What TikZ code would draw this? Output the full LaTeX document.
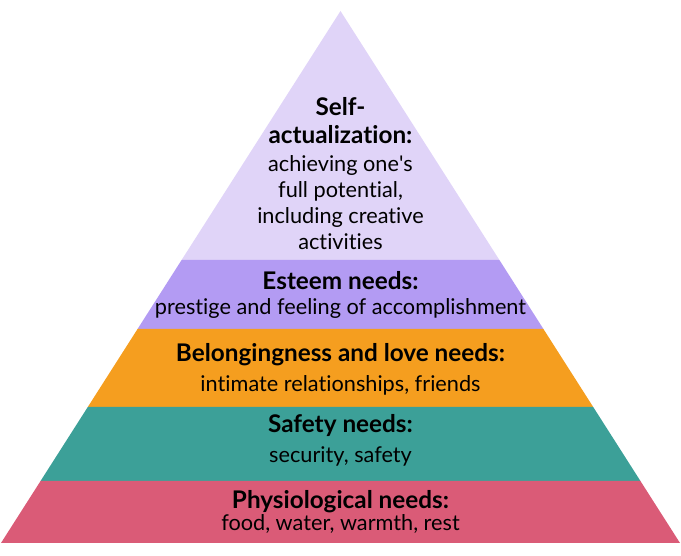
\documentclass[tikz,border=0pt]{standalone}
\usepackage{fontspec}
\setmainfont{Lato}[Ligatures=NoCommon]
\newfontfamily\straightlato{Lato}
\usepackage{tikz}
\usetikzlibrary{calc}
\usepackage{tkz-euclide}

\definecolor{toplav}{HTML}{E0D4F8}
\definecolor{esteemlav}{HTML}{B39BF3}
\definecolor{loveorange}{HTML}{F59E1F}
\definecolor{safeteal}{HTML}{3CA098}
\definecolor{physpink}{HTML}{DA5B77}

\tikzset{
  head/.style={font=\fontsize{24.3}{28}\selectfont\bfseries, anchor=base, align=center, inner sep=0pt},
  desc/.style={font=\fontsize{21.7}{26}\selectfont, anchor=base, align=center, inner sep=0pt}
}

\begin{document}
\begin{tikzpicture}[x=1pt, y=1pt]
            \useasboundingbox (0,0) rectangle (681,555);
            \tkzDefPoints{340.5/544/T, 1/12/L, 680/12/R}
            % band edges, as fractions down the sides
            \coordinate (L1) at ($(T)!249/532!(L)$);
            \coordinate (R1) at ($(T)!249/532!(R)$);
            \coordinate (L2) at ($(T)!318/532!(L)$);
            \coordinate (R2) at ($(T)!318/532!(R)$);
            \coordinate (L3) at ($(T)!396/532!(L)$);
            \coordinate (R3) at ($(T)!396/532!(R)$);
            \coordinate (L4) at ($(T)!470/532!(L)$);
            \coordinate (R4) at ($(T)!470/532!(R)$);
            \tkzFillPolygon[fill=toplav](T,L1,R1)
            \tkzFillPolygon[fill=esteemlav](L1,L2,R2,R1)
            \tkzFillPolygon[fill=loveorange](L2,L3,R3,R2)
            \tkzFillPolygon[fill=safeteal](L3,L4,R4,R3)
            \tkzFillPolygon[fill=physpink](L4,L,R,R4)
            %\tkzDrawPolygon[black](T,L,R)
            % multi-line nodes sit on their last baseline
            \node[head] (selfhead) at (340.5,411) {Self-\\actualization:};
            \node[desc] (selftext) at (340.5,305) {achieving one{\straightlato '}s\\full potential,\\including creative\\activities};
            \node[head] (esteemhead) at (340.5,265) {Esteem needs:};
            \node[desc] (esteemtext) at (340.5,240) {prestige and feeling of accomplishment};
            \node[head] (lovehead) at (340.5,193) {Belongingness and love needs:};
            \node[desc] (lovetext) at (340.5,163) {intimate relationships, friends};
            \node[head] (safehead) at (340.5,122) {Safety needs:};
            \node[desc] (safetext) at (340.5,92) {security, safety};
            \node[head] (physhead) at (340.5,46) {Physiological needs:};
            \node[desc] (phystext) at (340.5,24) {food, water, warmth, rest};
        \end{tikzpicture}
\end{document}
